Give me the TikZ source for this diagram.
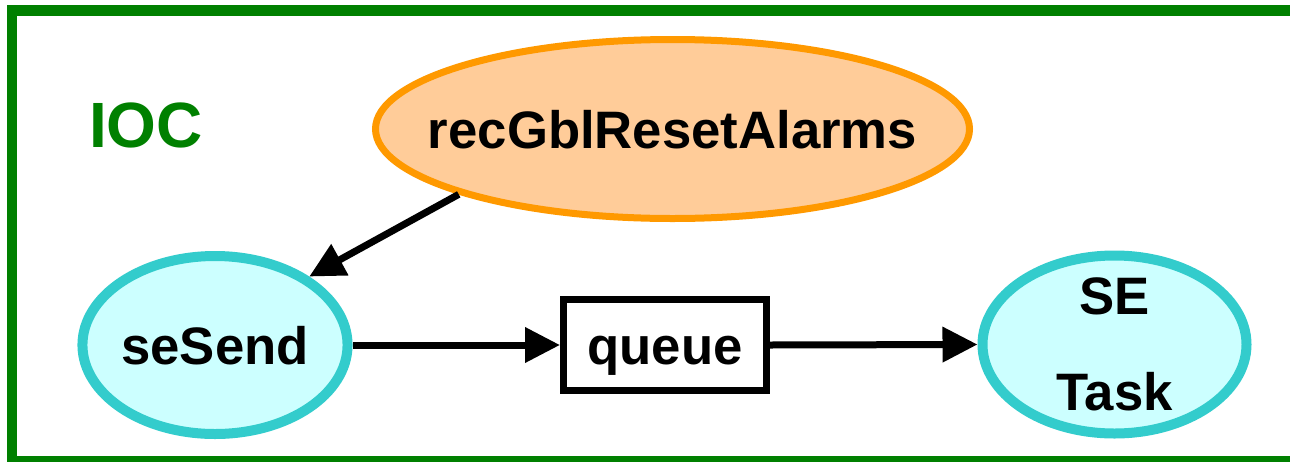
\documentclass[tikz,border=0pt]{standalone}
\usepackage{fontspec}
\setmainfont{Liberation Sans}
\usetikzlibrary{shapes.geometric,arrows.meta}
\definecolor{iocgreen}{HTML}{008000}
\definecolor{recline}{HTML}{FF9900}
\definecolor{recfill}{HTML}{FFCC99}
\definecolor{seline}{HTML}{33CCCC}
\definecolor{sefill}{HTML}{CCFFFF}
\tikzset{
  lbl/.style={font=\fontsize{52.7}{96}\selectfont\bfseries, text=black, inner sep=0pt},
  recell/.style={ellipse, draw=recline, fill=recfill, line width=7pt, minimum width=594pt, minimum height=179pt, lbl, inner xsep=-35pt, text height=38pt, text depth=0pt},
  seell/.style={ellipse, draw=seline, fill=sefill, line width=10pt, minimum width=264pt, minimum height=178pt, lbl},
  qbox/.style={rectangle, draw=black, fill=white, line width=7pt, minimum width=203pt, minimum height=91pt, lbl, text height=38pt, text depth=0pt},
  conn/.style={line width=7pt, -{Triangle[length=35pt,width=34pt]}}
}
\begin{document}
\begin{tikzpicture}[x=1pt,y=-1pt]
\clip (0,0) rectangle (1290,461);
\draw[iocgreen, line width=10.5pt] (12,10.5) rectangle (1305,461);
\node[font=\fontsize{64}{70}\selectfont\bfseries, text=iocgreen, anchor=base, inner sep=0pt] (ioc) at (146,147) {IOC};
\node[recell] (rec) at (672.5,129) {recGblResetAlarms};
\node[seell, text height=38pt, text depth=0pt] (se) at (215,345) {seSend};
\node[qbox] (q) at (665,345) {queue};
\node[seell, align=center, inner ysep=-5pt] (task) at (1114.5,344.5) {SE\\Task};
\draw[conn] (rec.197.9) -- (se.36.6);
\draw[conn] (se.east) -- (q.west);
\draw[conn] (q.east) -- (task.west);
\end{tikzpicture}
\end{document}
